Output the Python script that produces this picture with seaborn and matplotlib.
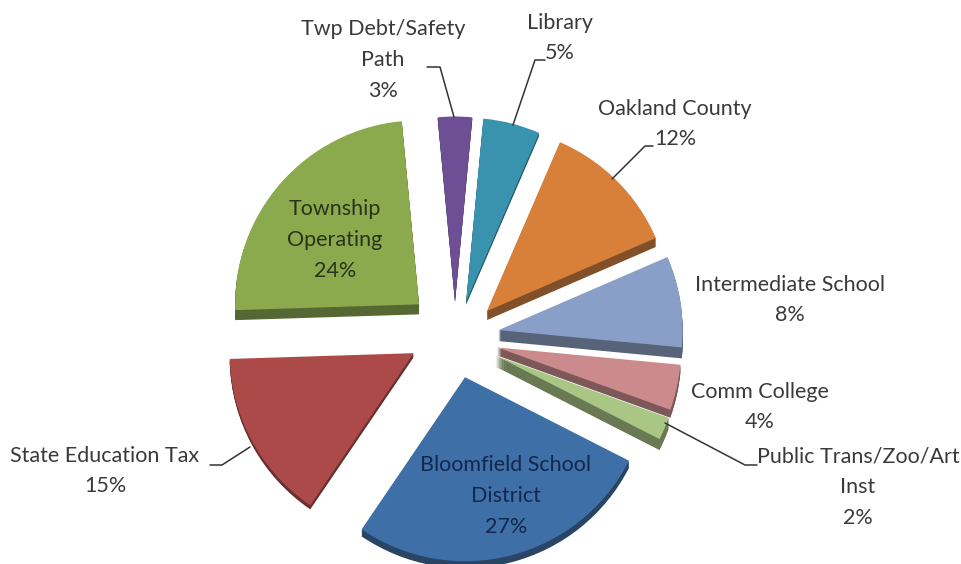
import matplotlib
matplotlib.use("Agg")
import matplotlib.pyplot as plt
import seaborn as sns

categorias = [
    "Twp Debt/Safety\nPath", "Library", "Oakland County", "Intermediate School",
    "Comm College", "Public Trans/Zoo/Art\nInst", "Bloomfield School\nDistrict",
    "State Education Tax", "Township\nOperating"
]
percentuais = [3, 5, 12, 8, 4, 2, 27, 15, 24]
cores = ["#6E4F96", "#3A93AE", "#D8803A", "#8A9FC7", "#CB8A8C",
         "#A9C685", "#3E6FA7", "#AC4A49", "#8BAA4E"]
afastamento = [0.22, 0.22, 0.23, 0.24, 0.235, 0.24, 0.22, 0.25, 0.26]
parede_px = [2, 3, 9, 11, 8, 11, 7, 4, 10]
# small shifts in pixels (x, y down), the original has some perspective
ajuste_px = [(0, 3), (1, 3), (2, 3), (0, -1), (0, 0), (0, 0), (0, 0), (-1, -7), (0, -2)]

# pie geometry in pixels of the picture
LARGURA, ALTURA = 962, 564
CX, CY, RAIO = 455, 338, 184

sns.set_theme(style="white")
plt.rcParams["font.family"] = ["Lato", "DejaVu Sans"]


def px(x, y):
    return (x - CX) / RAIO, (CY - y) / RAIO


def escurecer(cor, fator=0.62):
    r, g, b = sns.desaturate(cor, 0.9)
    return (r * fator, g * fator, b * fator)


def desenha_pizza(ax, cores_fatia, queda=0):
    fatias, _ = ax.pie(percentuais, explode=afastamento, colors=cores_fatia, startangle=95.4,
                       counterclock=False, center=(0, -queda / RAIO), radius=1,
                       wedgeprops={"linewidth": 0})
    for fatia, (dx, dy) in zip(fatias, ajuste_px):
        x, y = fatia.center
        fatia.set_center((x + dx / RAIO, y - dy / RAIO))


fig = plt.figure(figsize=(LARGURA / 100, ALTURA / 100), dpi=100)
ax = fig.add_axes([0, 0, 1, 1])

# side walls: the same pie stacked downwards, then the top face
for k in range(max(parede_px), 0, -1):
    desenha_pizza(ax, [escurecer(c) if p >= k else (0, 0, 0, 0)
                       for c, p in zip(cores, parede_px)], queda=k)
desenha_pizza(ax, cores)

ax.set_xlim(-CX / RAIO, (LARGURA - CX) / RAIO)
ax.set_ylim((CY - ALTURA) / RAIO, CY / RAIO)
ax.set_aspect("auto")
ax.axis("off")

# label centres, in pixels, in the order of categorias
posicoes = [(383, 60), (560, 38), (675, 124), (790, 300), (760, 407),
            (858, 487), (506, 496), (105, 471), (335, 240)]
cores_texto = ["#3a3a3a"] * 6 + ["#14274d", "#3a3a3a", "#28331a"]

for nome, valor, (x, y), cor in zip(categorias, percentuais, posicoes, cores_texto):
    ax.text(*px(x, y), f"{nome}\n{valor}%", ha="center", va="center", fontsize=15.5,
            color=cor, linespacing=1.66)

# leader lines
guias = [
    [(427, 67), (440, 67), (454, 117)],
    [(545, 60), (535, 60), (513, 125)],
    [(653, 146), (645, 146), (612, 179)],
    [(665, 423), (745, 465), (757, 465)],
    [(250, 447), (222, 465), (210, 465)],
]
for guia in guias:
    xs, ys = zip(*[px(*p) for p in guia])
    ax.plot(xs, ys, color="#333333", linewidth=1.1)

fig.savefig("out.png", dpi=100, facecolor="white")
